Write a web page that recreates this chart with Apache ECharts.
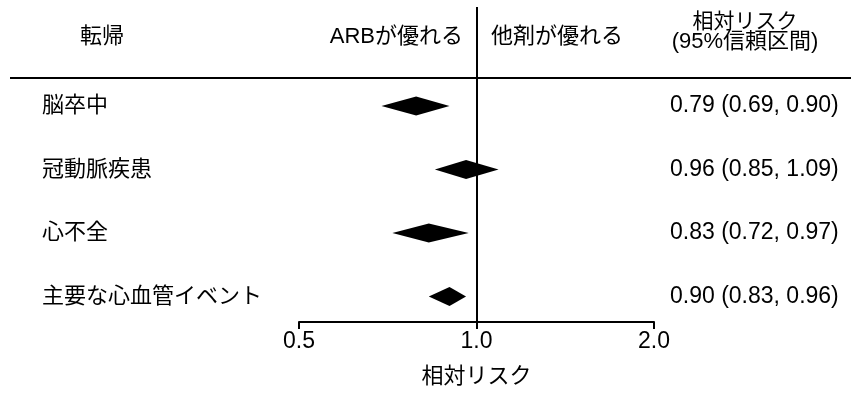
<!DOCTYPE html>
<html><head><meta charset="utf-8">
<script src="https://cdn.jsdelivr.net/npm/echarts@6/dist/echarts.min.js"></script>
<style>html,body{margin:0;padding:0;background:#fff}#c{width:851px;height:394px}</style>
</head><body><div id="c"></div>
<script>
const outcomes = ['脳卒中', '冠動脈疾患', '心不全', '主要な心血管イベント'];
const riskRatio = [0.79, 0.96, 0.83, 0.90];
const ciLower = [0.69, 0.85, 0.72, 0.83];
const ciUpper = [0.90, 1.09, 0.97, 0.96];
const ciText = ['0.79 (0.69, 0.90)', '0.96 (0.85, 1.09)', '0.83 (0.72, 0.97)', '0.90 (0.83, 0.96)'];
const xTicks = [0.5, 1.0, 2.0];

const FONT = '"Liberation Sans", "Noto Sans CJK JP", sans-serif';
const data = outcomes.map((o, i) => [i, riskRatio[i], ciLower[i], ciUpper[i]]);

const chart = echarts.init(document.getElementById('c'));
chart.setOption({
  animation: false,
  backgroundColor: '#fff',
  grid: { left: 299, right: 197, top: 7, bottom: 72 },
  xAxis: {
    type: 'log', logBase: 2, min: 0.5, max: 2,
    axisLine: { show: true, onZero: false, lineStyle: { color: '#000', width: 2 } },
    axisTick: { show: true, length: 7, lineStyle: { color: '#000', width: 2 } },
    splitLine: { show: false },
    axisLabel: { color: '#000', fontSize: 23, fontFamily: FONT, margin: 8,
      formatter: v => xTicks.includes(+v.toFixed(1)) ? (+v).toFixed(1) : '' },
    name: '相対リスク', nameLocation: 'middle', nameGap: 44,
    nameTextStyle: { color: '#000', fontSize: 22, fontFamily: FONT }
  },
  yAxis: {
    type: 'value', inverse: true, min: -1.559, max: 3.402,
    show: false
  },
  series: [{
    type: 'custom',
    data: data,
    encode: { x: [1, 2, 3], y: 0 },
    clip: false,
    renderItem: (params, api) => {
      const i = api.value(0);
      const c = api.coord([api.value(1), i]);
      const l = api.coord([api.value(2), i]);
      const h = api.coord([api.value(3), i]);
      const hh = 9.5;
      return {
        type: 'group',
        children: [
          { type: 'polygon', shape: { points: [[l[0], c[1]], [c[0], c[1] - hh], [h[0], c[1]], [c[0], c[1] + hh]] },
            style: { fill: '#000' } },
          { type: 'text', style: { text: outcomes[i], x: 42, y: c[1], verticalAlign: 'middle',
              font: '22px ' + FONT, fill: '#000' } },
          { type: 'text', style: { text: ciText[i], x: 670, y: c[1], verticalAlign: 'middle',
              font: '23px ' + FONT, fill: '#000' } }
        ]
      };
    },
    markLine: {
      silent: true, symbol: 'none', label: { show: false },
      lineStyle: { color: '#000', width: 2, type: 'solid' },
      data: [{ xAxis: 1 }]
    }
  }],
  graphic: [
    { type: 'line', shape: { x1: 10, y1: 78, x2: 851, y2: 78 }, style: { stroke: '#000', lineWidth: 2 } },
    { type: 'text', style: { text: '転帰', x: 80, y: 37, verticalAlign: 'middle', font: '22px ' + FONT, fill: '#000' } },
    { type: 'text', style: { text: 'ARBが優れる', x: 463, y: 37, align: 'right', verticalAlign: 'middle', font: '22px ' + FONT, fill: '#000' } },
    { type: 'text', style: { text: '他剤が優れる', x: 491, y: 37, verticalAlign: 'middle', font: '22px ' + FONT, fill: '#000' } },
    { type: 'text', style: { text: '相対リスク', x: 745, y: 22, align: 'center', verticalAlign: 'middle', font: '21px ' + FONT, fill: '#000' } },
    { type: 'text', style: { text: '(95%信頼区間)', x: 745, y: 42, align: 'center', verticalAlign: 'middle', font: '22px ' + FONT, fill: '#000' } }
  ]
});
</script></body></html>
